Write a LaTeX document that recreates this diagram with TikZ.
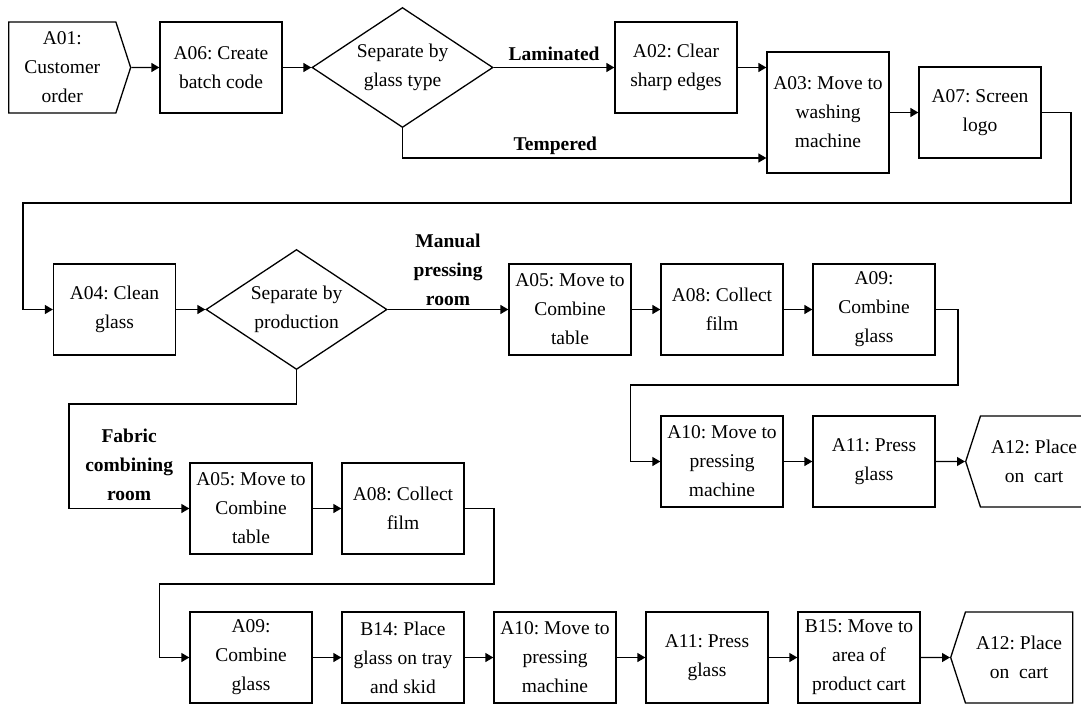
\documentclass[tikz,border=0pt]{standalone}
\usepackage{fontspec}
\setmainfont{Liberation Serif}
\usetikzlibrary{shapes,shapes.geometric,shapes.symbols,arrows.meta}
\frenchspacing

\begin{document}
\begin{tikzpicture}[
  x=1pt, y=-1pt,
  line width=1.3pt,
  node distance=152pt
]

  \tikzstyle{stepnode}=[draw,rectangle,minimum width=122pt,minimum height=91pt,inner sep=0pt,align=center,font=\fontsize{19.5}{29}\selectfont]
  \tikzstyle{decnode}=[draw,diamond,aspect=1.5,minimum width=181pt,minimum height=120pt,inner sep=0pt,align=center,font=\fontsize{19.5}{29}\selectfont]
  \tikzstyle{termnode}=[draw,signal,signal pointer angle=144,minimum width=122pt,minimum height=91pt,inner sep=0pt,align=center,font=\fontsize{19.5}{29}\selectfont]

  \tikzstyle{pointer}=[draw,-{Triangle[length=8pt,width=9pt]}]
  \tikzstyle{branchlab}=[above,inner sep=3pt,align=center,font=\fontsize{19.5}{29}\selectfont\bfseries]

  \useasboundingbox (0,0) rectangle (1081,704);

  % nodes
  \node[termnode,signal to=east,anchor=west] (a01) at (8,67.5) {A01:\\Customer\\order};
  \node[stepnode] (a06) at (221,67.5) {A06: Create\\batch code};
  \node[decnode] (sep1) at (402.5,67.5) {Separate by\\glass type};
  \node[stepnode] (a02) at (676,67.5) {A02: Clear\\sharp edges};
  \node[stepnode,minimum height=121pt] (a03) at (828,112.5) {A03: Move to\\washing\\machine};
  \node[stepnode] (a07) [right of=a03] {A07: Screen\\logo};

  \node[stepnode] (a04) at (114.5,309.5) {A04: Clean\\glass};
  \node[decnode] (sep2) at (296.5,309.5) {Separate by\\production};
  \node[stepnode] (a05t) at (570,309.5) {A05: Move to\\Combine\\table};
  \node[stepnode] (a08t) [right of=a05t] {A08: Collect\\film};
  \node[stepnode] (a09t) [right of=a08t] {A09:\\Combine\\glass};
  \node[stepnode] (a10t) at (722,461.5) {A10: Move to\\pressing\\machine};
  \node[stepnode] (a11t) [right of=a10t] {A11: Press\\glass};
  \node[termnode,signal to=west,anchor=west] (a12t) at (965,461.5) {A12: Place\\on~ cart};

  \node[stepnode] (a05b) at (251,508.5) {A05: Move to\\Combine\\table};
  \node[stepnode] (a08b) [right of=a05b] {A08: Collect\\film};

  \node[stepnode] (a09b) at (251,657.5) {A09:\\Combine\\glass};
  \node[stepnode] (b14) [right of=a09b] {B14: Place\\glass on tray\\and skid};
  \node[stepnode] (a10b) [right of=b14] {A10: Move to\\pressing\\machine};
  \node[stepnode] (a11b) [right of=a10b] {A11: Press\\glass};
  \node[stepnode] (b15) [right of=a11b] {B15: Move to\\area of\\product cart};
  \node[termnode,signal to=west,anchor=west] (a12b) at (950,657.5) {A12: Place\\on~ cart};

  \coordinate (turn1) at (1071,203);
  \coordinate (turn2) at (958,385);
  \coordinate (turn3) at (69,404);
  \coordinate (turn4) at (494,584);

  % pointers
  \draw[pointer] (a01)  -- (a06);
  \draw[pointer] (a06)  -- (sep1);
  \draw[pointer] (sep1) -- node[branchlab,yshift=3pt] {Laminated} (a02);
  \draw[pointer] (sep1.south) |- node[branchlab,pos=0.71] {Tempered} ([yshift=-45.5pt]a03.west);
  \draw[pointer] (a02)  -- (a02 -| a03.west);
  \draw[pointer] (a03)  -- (a07);
  \draw[pointer] (a07.east) -| (turn1) -| ([xshift=-30pt]a04.west) -- (a04.west);

  \draw[pointer] (a04)  -- (sep2);
  \draw[pointer] (sep2) -- node[branchlab] {Manual\\pressing\\room} (a05t);
  \draw[pointer] (a05t) -- (a08t);
  \draw[pointer] (a08t) -- (a09t);
  \draw[pointer] (a09t.east) -| (turn2) -| ([xshift=-30pt]a10t.west) -- (a10t.west);
  \draw[pointer] (a10t) -- (a11t);
  \draw[pointer] (a11t) -- (a12t);

  \draw[pointer] (sep2.south) |- (turn3) |- node[branchlab,pos=0.75,yshift=4pt] {Fabric\\combining\\room} (a05b.west);
  \draw[pointer] (a05b) -- (a08b);
  \draw[pointer] (a08b.east) -| (turn4) -| ([xshift=-30pt]a09b.west) -- (a09b.west);

  \draw[pointer] (a09b) -- (b14);
  \draw[pointer] (b14)  -- (a10b);
  \draw[pointer] (a10b) -- (a11b);
  \draw[pointer] (a11b) -- (b15);
  \draw[pointer] (b15)  -- (a12b);

\end{tikzpicture}
\end{document}
